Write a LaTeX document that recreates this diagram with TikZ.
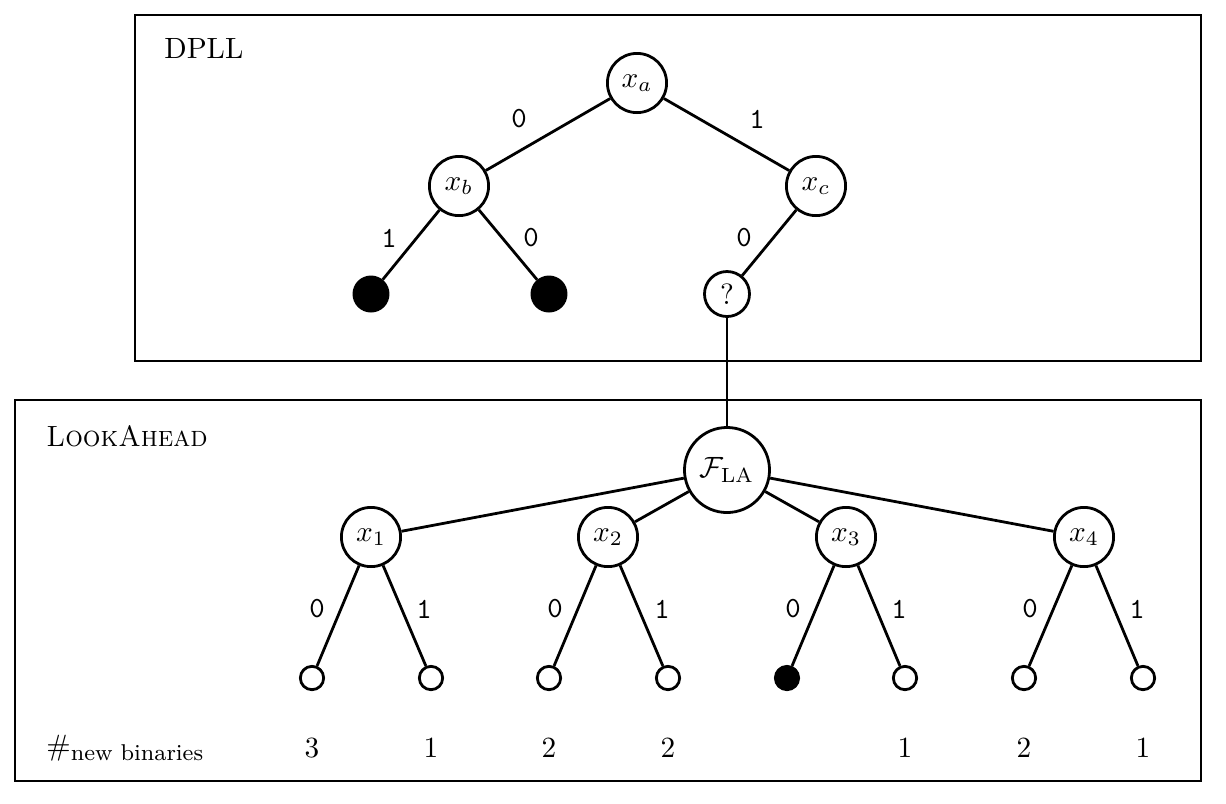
\documentclass[tikz,border=0pt]{standalone}
\usepackage{amsmath}
\usepackage{graphicx}
\begin{document}
\begin{tikzpicture}[x=0.012cm,y=-0.012cm,
  every path/.style={line width=0.95pt},
  var/.style={draw,circle,inner sep=0pt,minimum size=0.71cm,fill=white},
  blk/.style={draw,circle,inner sep=0pt,minimum size=0.41cm,fill=black},
  qn/.style={draw,circle,inner sep=0pt,minimum size=0.54cm},
  la/.style={draw,circle,inner sep=0pt,minimum size=1.02cm},
  leaf/.style={draw,circle,inner sep=0pt,minimum size=0.28cm},
  leafb/.style={leaf,fill=black},
  lbl/.style={font=\ttfamily,inner sep=0pt},
  frame/.style={draw,line width=0.95pt}]
\useasboundingbox (0,0) rectangle (1226,803);
% boxes
\draw[frame] (135,15) rectangle (1201,361);
\draw[frame] (15,400) rectangle (1201,781);
\node[anchor=west,inner sep=0pt] (dpll) at (163,48) {DPLL};
\node[anchor=west,inner sep=0pt] (lah) at (45,436) {\scalebox{0.947}[1]{\textsc{LookAhead}}};
\node[anchor=west,inner sep=0pt] (nb) at (45,748) {\#$_{\text{\fontsize{7.8}{9}\selectfont new binaries}}$};
% DPLL tree
\node[var] (xa) at (637,83) {$x_a$};
\node[var] (xb) at (459,186) {$x_b$};
\node[var] (xc) at (816,186) {$x_c$};
\node[blk] (b1) at (371,294) {};
\node[blk] (b2) at (549,294) {};
\node[qn] (q) at (727,294) {?};
\draw (xa) -- (xb);
\draw (xa) -- (xc);
\draw (xb) -- (b1);
\draw (xb) -- (b2);
\draw (xc) -- (q);
\node[lbl] (l1) at (519,119) {0};
\node[lbl] (l2) at (757,119) {1};
\node[lbl] (l3) at (389,238) {1};
\node[lbl] (l4) at (531,238) {0};
\node[lbl] (l5) at (744,238) {0};
% LookAhead tree
\node[la] (F) at (727,470) {$\mathcal{F}_{\text{LA}}$};
\draw (q) -- (F);
\node[var] (y1) at (371,537) {$x_1$};
\node[var] (y2) at (608,537) {$x_2$};
\node[var] (y3) at (846,537) {$x_3$};
\node[var] (y4) at (1084,537) {$x_4$};
\foreach \i in {1,...,4} {\draw (F) -- (y\i);}
\node[leaf] (c1) at (312,678) {};
\node[leaf] (c2) at (431,678) {};
\node[leaf] (c3) at (549,678) {};
\node[leaf] (c4) at (668,678) {};
\node[leafb] (c5) at (787,678) {};
\node[leaf] (c6) at (905,678) {};
\node[leaf] (c7) at (1024,678) {};
\node[leaf] (c8) at (1143,678) {};
\draw (y1) -- (c1); \draw (y1) -- (c2);
\draw (y2) -- (c3); \draw (y2) -- (c4);
\draw (y3) -- (c5); \draw (y3) -- (c6);
\draw (y4) -- (c7); \draw (y4) -- (c8);
\node[lbl] (m1) at (317,609) {0};
\node[lbl] (m2) at (424,609) {1};
\node[lbl] (m3) at (555,609) {0};
\node[lbl] (m4) at (662,609) {1};
\node[lbl] (m5) at (793,609) {0};
\node[lbl] (m6) at (899,609) {1};
\node[lbl] (m7) at (1030,609) {0};
\node[lbl] (m8) at (1137,609) {1};
% counts
\node (n1) at (312,748) {3};
\node (n2) at (431,748) {1};
\node (n3) at (549,748) {2};
\node (n4) at (668,748) {2};
\node (n6) at (905,748) {1};
\node (n7) at (1024,748) {2};
\node (n8) at (1143,748) {1};
\end{tikzpicture}
\end{document}
